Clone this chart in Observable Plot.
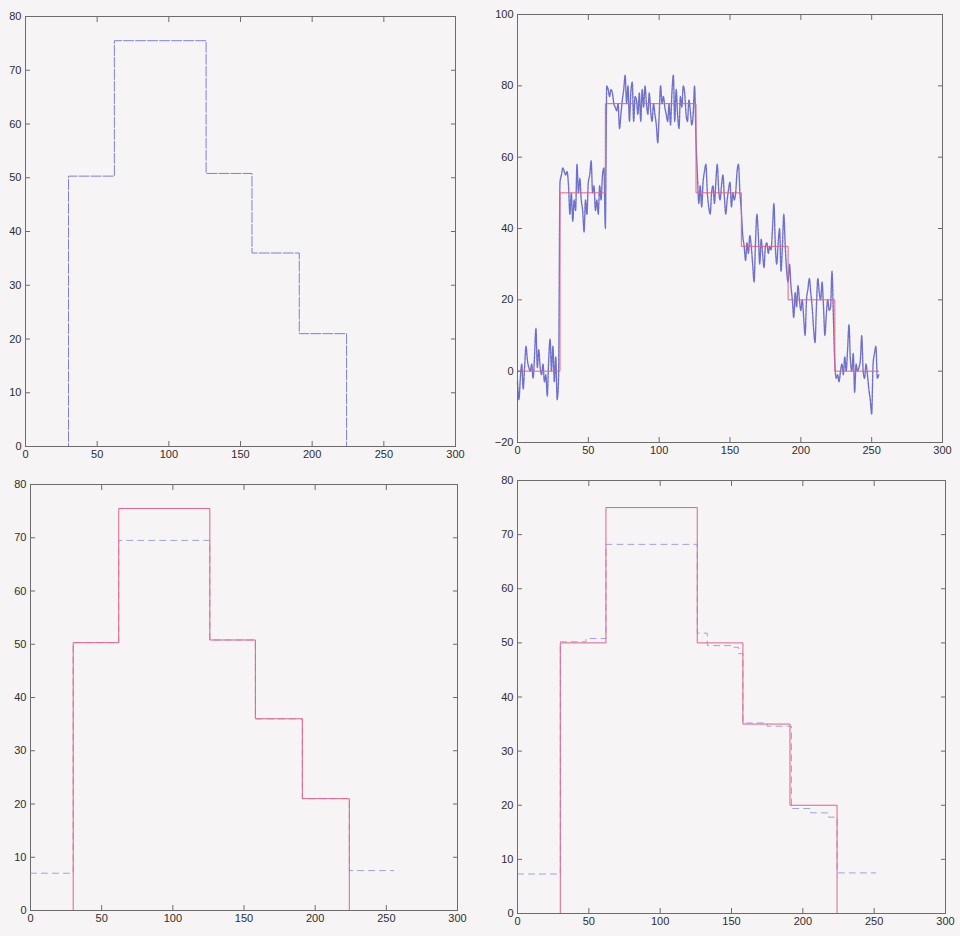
<!DOCTYPE html>
<html>
<head>
<meta charset="utf-8">
<script src="https://cdn.jsdelivr.net/npm/d3@7"></script>
<script src="https://cdn.jsdelivr.net/npm/@observablehq/plot@0.6"></script>
<style>
html,body{margin:0;padding:0;background:#f6f4f5;}
#page{position:relative;width:960px;height:936px;overflow:hidden;background:#f6f4f5;}
.panel{position:absolute;}
</style>
</head>
<body>
<div id="page"></div>
<script>
// ---- tick labels ----
const xTicks = [0, 50, 100, 150, 200, 250, 300];
const yTicks80 = [0, 10, 20, 30, 40, 50, 60, 70, 80];
const yTicks100 = [-20, 0, 20, 40, 60, 80, 100];

// ---- step breakpoints (sample index where each level starts) ----
const stepX = [0, 30, 62, 126, 158, 191, 224, 256];

// panel 1: estimated signal (blue dashed)
const est1 = [0, 50.3, 75.5, 50.8, 36, 21, 0, 0];

// panel 2: true signal (red) and noisy observation (blue)
const trueSignal = [0, 50, 75, 50, 35, 20, 0, 0];
const noisy = [
  -3, -8, -2, 2, -5, 1, 7, 3, 1, 0, 2, -2, 4, 12, 1, 6, 1, -1, 2, -3, -1, -7, 3, 9, 0, 7, -3, 4, -8, -2,
  53, 55, 57, 56, 55, 56, 52, 44, 50, 42, 48, 45, 58, 50, 54, 48, 45, 39, 48, 44, 53, 55, 59, 50, 52, 45, 48, 44, 52, 48, 55, 57, 40,
  80, 79, 77, 79, 78, 75, 74, 73, 75, 68, 72, 76, 79, 83, 75, 80, 70, 78, 81, 70, 77, 76, 72, 78, 70, 79, 74, 80, 75, 72, 78, 73,
  70, 75, 72, 69, 64, 72, 80, 75, 77, 74, 72, 70, 75, 69, 78, 83, 70, 79, 72, 68, 77, 74, 80, 78, 72, 70, 76, 73, 69, 72, 80, 65,
  55, 47, 52, 46, 53, 56, 58, 50, 46, 44, 50, 52, 47, 53, 58, 51, 48, 52, 55, 49, 44, 48, 51, 53, 46, 50, 48, 50, 56, 58, 50, 45,
  38, 35, 31, 36, 33, 38, 35, 30, 25, 36, 44, 38, 30, 37, 33, 29, 35, 36, 33, 35, 34, 40, 47, 35, 30, 36, 40, 28, 35, 44, 35, 28,
  25, 30, 24, 20, 15, 22, 18, 24, 20, 17, 20, 15, 10, 20, 23, 26, 22, 18, 12, 8, 18, 26, 22, 20, 25, 18, 10, 16, 20, 17, 18, 28, 15,
  2, -2, -1, -3, 0, 2, -1, 4, 0, 6, 13, 3, 0, 5, -6, 2, 0, 1, 3, 10, 0, -2, 2, -1, -5, -8, -12, 2, 5, 7, -2, -1
];

// panel 3: red = estimate, blue dashed = alternative estimate
const est3Red = [0, 50.3, 75.5, 50.8, 36, 21, 0, 0];
const est3Blue = [7, 50.3, 69.5, 50.8, 36, 21, 7.5, 7.5];

// panel 4: red = true signal, blue dashed = estimate with its own breakpoints
const est4BlueX = [0, 30, 48, 62, 126, 133, 150, 155, 158, 175, 192, 205, 218, 224, 251];
const est4BlueY = [7.3, 50.2, 50.8, 68.2, 51.8, 49.5, 49.2, 48, 35.2, 34.6, 19.4, 18.6, 17.8, 7.5, 7.5];

// ---- helpers ----
const rows = (xs, ys) => xs.map((x, i) => ({x, y: ys[i]}));
const BLUE = "#5f63c4";
const BLUE_P1 = "#7e80d8";
const BLUE_LIGHT = "#9ea3e2";
const RED = "#e2628a";
const FRAME = "#6c6c6c";

function axes(yTicks) {
  const common = {stroke: FRAME, fontSize: 11, label: null};
  return [
    Plot.axisX(xTicks, {...common, anchor: "bottom", tickSize: -5, tickPadding: 9}),
    Plot.axisX(xTicks, {...common, anchor: "top", tickSize: -5, tickFormat: () => ""}),
    Plot.axisY(yTicks, {...common, anchor: "left", tickSize: -5, tickPadding: 9}),
    Plot.axisY(yTicks, {...common, anchor: "right", tickSize: -5, tickFormat: () => ""}),
    Plot.frame({stroke: FRAME, strokeWidth: 1})
  ];
}

function makePlot({left, top, width, height, margins, yDomain, yTicks, marks}) {
  const svg = Plot.plot({
    width, height,
    marginLeft: margins[0], marginRight: margins[1], marginTop: margins[2], marginBottom: margins[3],
    x: {domain: [0, 300], label: null},
    y: {domain: yDomain, label: null},
    style: {background: "transparent", color: "#2e2e2e", fontFamily: "'Liberation Sans', Arial, sans-serif", fontSize: "11px", overflow: "visible"},
    marks: [...marks, ...axes(yTicks)]
  });
  const div = document.createElement("div");
  div.className = "panel";
  div.style.left = left + "px";
  div.style.top = top + "px";
  div.appendChild(svg);
  document.getElementById("page").appendChild(div);
}

// Panel 1 (top-left)
makePlot({
  left: 0, top: 0, width: 480, height: 470, margins: [25, 25, 16, 24],
  yDomain: [0, 80], yTicks: yTicks80,
  marks: [
    Plot.line(rows(stepX, est1), {x: "x", y: "y", curve: "step-after", stroke: BLUE_P1, strokeWidth: 1, strokeDasharray: "10,2"})
  ]
});

// Panel 2 (top-right)
makePlot({
  left: 480, top: 0, width: 480, height: 470, margins: [37, 18, 14, 28],
  yDomain: [-20, 100], yTicks: yTicks100,
  marks: [
    Plot.line(noisy.map((v, i) => ({x: i, y: v})), {x: "x", y: "y", stroke: BLUE, strokeWidth: 1.4, strokeOpacity: 0.9, strokeDasharray: "3,1", curve: "monotone-x"}),
    Plot.line(rows(stepX.map(v => Math.min(v, 255)), trueSignal), {x: "x", y: "y", curve: "step-after", stroke: RED, strokeWidth: 1})
  ]
});

// Panel 3 (bottom-left)
makePlot({
  left: 0, top: 460, width: 480, height: 476, margins: [30, 23, 24, 26],
  yDomain: [0, 80], yTicks: yTicks80,
  marks: [
    Plot.line(rows(stepX.map(v => Math.min(v, 255)), est3Blue), {x: "x", y: "y", curve: "step-after", stroke: BLUE_LIGHT, strokeWidth: 1, strokeDasharray: "6,5"}),
    Plot.line(rows(stepX, est3Red), {x: "x", y: "y", curve: "step-after", stroke: RED, strokeWidth: 1})
  ]
});

// Panel 4 (bottom-right)
makePlot({
  left: 480, top: 460, width: 480, height: 476, margins: [37, 15, 20, 23],
  yDomain: [0, 80], yTicks: yTicks80,
  marks: [
    Plot.line(rows(est4BlueX, est4BlueY), {x: "x", y: "y", curve: "step-after", stroke: BLUE_LIGHT, strokeWidth: 1, strokeDasharray: "6,5"}),
    Plot.line(rows(stepX, trueSignal), {x: "x", y: "y", curve: "step-after", stroke: RED, strokeWidth: 1})
  ]
});
</script>
</body>
</html>
